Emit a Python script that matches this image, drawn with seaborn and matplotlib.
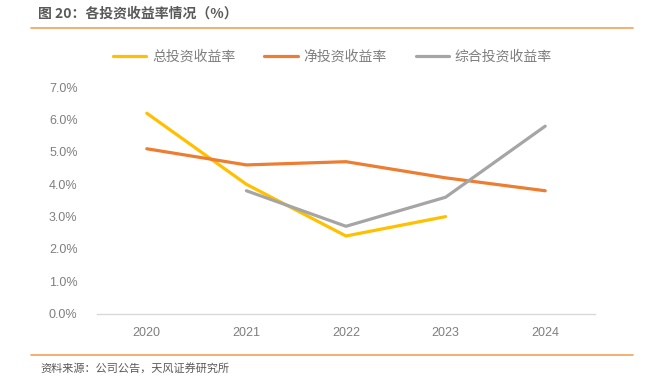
import numpy as np
import pandas as pd
import seaborn as sns
from matplotlib import pyplot as plt
from matplotlib.lines import Line2D

years = [2020, 2021, 2022, 2023, 2024]
total_yield = [6.2, 4.0, 2.4, 3.0, np.nan]
net_yield = [5.1, 4.6, 4.7, 4.2, 3.8]
comp_yield = [np.nan, 3.8, 2.7, 3.6, 5.8]
series_names = ['总投资收益率', '净投资收益率', '综合投资收益率']
colors = ['#FFC000', '#ED7D31', '#A5A5A5']

sns.set_style('white')
plt.rcParams['font.family'] = ['Liberation Sans', 'Noto Sans CJK SC']

df = pd.DataFrame({'year': years * 3,
                   'value': total_yield + net_yield + comp_yield,
                   'series': [n for n in series_names for _ in years]})

fig = plt.figure(figsize=(6.49, 3.8), dpi=100)
ax = fig.add_axes([97 / 649, 0.175, 498 / 649, 0.595])

sns.lineplot(data=df, x='year', y='value', hue='series', hue_order=series_names,
             palette=colors, linewidth=2.3, ax=ax, legend=False)

ax.set_xlim(2019.5, 2024.5)
ax.set_ylim(0, 7)
ax.set_xticks(years)
ax.set_xticklabels([str(y) for y in years])
ax.set_yticks(np.arange(0, 7.01, 1))
ax.set_yticklabels([f'{v:.1f}%' for v in np.arange(0, 7.01, 1)])
ax.set_xlabel('')
ax.set_ylabel('')
ax.tick_params(axis='both', length=0, labelsize=9, labelcolor='#7F7F7F')
ax.tick_params(axis='x', pad=10)
ax.tick_params(axis='y', pad=14)
for s in ['top', 'right', 'left']:
    ax.spines[s].set_visible(False)
ax.spines['bottom'].set_color('#D9D9D9')
ax.spines['bottom'].set_linewidth(1)

handles = [Line2D([], [], color=c, linewidth=2.3) for c in colors]
leg = fig.legend(handles, series_names, loc='center', bbox_to_anchor=(0.512, 1 - 57 / 380),
                 ncol=3, frameon=False, handlelength=2.4, columnspacing=2.1, handletextpad=0.4,
                 prop={'family': 'Noto Sans CJK SC', 'size': 10})
for t in leg.get_texts():
    t.set_color('#7F7F7F')

fig.text(38 / 649, 1 - 14 / 380, '图 20：各投资收益率情况（%）', ha='left', va='center',
         fontsize=10, fontweight='bold', color='#595959', family='Noto Sans CJK SC')
fig.add_artist(Line2D([31 / 649, 633 / 649], [1 - 28 / 380, 1 - 28 / 380], color='#F4A25A', linewidth=1.2))
fig.add_artist(Line2D([31 / 649, 633 / 649], [1 - 355 / 380, 1 - 355 / 380], color='#F4A25A', linewidth=1.2))
fig.text(40 / 649, 1 - 368 / 380, '资料来源：公司公告，天风证券研究所', ha='left', va='center',
         fontsize=8, color='#595959', family='Noto Sans CJK SC')

fig.savefig('out.png', dpi=100)
